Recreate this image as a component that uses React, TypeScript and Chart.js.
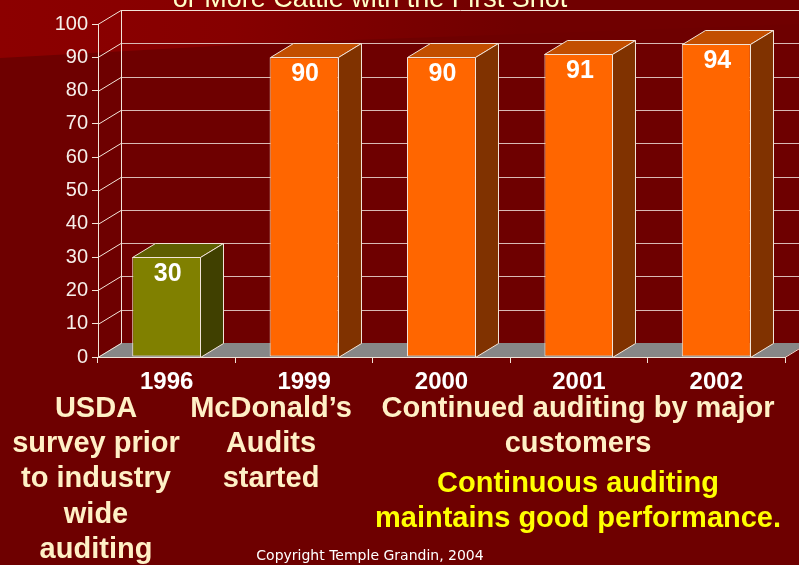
import React, { useEffect, useRef } from 'react';
import { Chart, registerables } from 'chart.js';

Chart.register(...registerables);

// ---- data ----
const categories: string[] = ['1996', '1999', '2000', '2001', '2002'];
const values: number[] = [30, 90, 90, 91, 94];
const yMin = 0;
const yMax = 100;
const yStep = 10;
const titleText = 'or More Cattle with the First Shot';
const note1996: string[] = ['USDA', 'survey prior', 'to industry', 'wide', 'auditing'];
const note1999: string[] = ['McDonald\u2019s', 'Audits', 'started'];
const noteLater: string[] = ['Continued auditing by major', 'customers'];
const noteConclusion: string[] = ['Continuous auditing', 'maintains good performance.'];
const copyrightText = 'Copyright Temple Grandin, 2004';

// ---- style ----
const FONT = '"Liberation Sans", Arial, Helvetica, sans-serif';
const DX = 23;
const DY = 14;
const BG = '#6E0000';
const GRID = '#D9B9B4';
const EDGE = '#F2E4D8';
const CREAM = '#FFF0C6';
const YELLOW = '#FFFF00';

const FACE = { front: '#FF6600', top: '#C24E00', side: '#803200' };
const FACE_OLIVE = { front: '#808000', top: '#5E5E00', side: '#404000' };

const facesFor = (i: number) => (i === 0 ? FACE_OLIVE : FACE);

const slidePlugin = {
  id: 'slide3d',
  beforeDraw(chart: any) {
    const { ctx, chartArea: a, scales } = chart;
    const W = chart.width;
    const H = chart.height;
    const ys = scales.y;
    ctx.save();
    ctx.fillStyle = BG;
    ctx.fillRect(0, 0, W, H);
    const g = ctx.createLinearGradient(0, 0, 520, 0);
    g.addColorStop(0, '#8C0000');
    g.addColorStop(0.45, '#860000');
    g.addColorStop(1, '#700000');
    ctx.fillStyle = g;
    ctx.beginPath();
    ctx.moveTo(0, 0);
    ctx.lineTo(W, 0);
    ctx.lineTo(W, 24);
    ctx.lineTo(270, 43);
    ctx.lineTo(0, 58);
    ctx.closePath();
    ctx.fill();

    // title (cut at top)
    ctx.fillStyle = '#FFFFC8';
    ctx.font = `27px ${FONT}`;
    ctx.textAlign = 'center';
    ctx.textBaseline = 'alphabetic';
    ctx.fillText(titleText, 370, 7);

    const y0 = ys.getPixelForValue(yMin);
    const yTop = ys.getPixelForValue(yMax);

    // floor
    ctx.fillStyle = '#878787';
    ctx.beginPath();
    ctx.moveTo(a.left, y0);
    ctx.lineTo(a.right, y0);
    ctx.lineTo(a.right + DX, y0 - DY);
    ctx.lineTo(a.left + DX, y0 - DY);
    ctx.closePath();
    ctx.fill();

    // walls grid
    ctx.lineWidth = 1;
    ys.ticks.forEach((t: any) => {
      const y = Math.round(ys.getPixelForValue(t.value)) + 0.5;
      ctx.strokeStyle = t.value === yMax ? EDGE : GRID;
      if (t.value > yMin) {
        ctx.beginPath();
        ctx.moveTo(a.left + DX, y - DY);
        ctx.lineTo(W + DX, y - DY);
        ctx.stroke();
      }
      ctx.strokeStyle = EDGE;
      ctx.beginPath();
      ctx.moveTo(a.left, y);
      ctx.lineTo(a.left + DX, y - DY);
      ctx.stroke();
    });
    ctx.strokeStyle = EDGE;
    ctx.beginPath();
    ctx.moveTo(a.left + DX + 0.5, Math.round(yTop) - DY + 0.5);
    ctx.lineTo(a.left + DX + 0.5, Math.round(y0) - DY + 0.5);
    ctx.stroke();
    // floor right edge
    ctx.beginPath();
    ctx.moveTo(a.right, Math.round(y0) + 0.5);
    ctx.lineTo(a.right + DX, Math.round(y0) - DY + 0.5);
    ctx.stroke();
    ctx.restore();
  },
  afterDatasetsDraw(chart: any) {
    const { ctx } = chart;
    const meta = chart.getDatasetMeta(0);
    ctx.save();
    ctx.lineWidth = 1;
    ctx.strokeStyle = EDGE;
    meta.data.forEach((bar: any, i: number) => {
      const p = bar.getProps(['x', 'y', 'base', 'width'], true);
      const l = Math.round(p.x - p.width / 2) + 0.5;
      const r = Math.round(p.x + p.width / 2) - 0.5;
      const t = Math.round(p.y) + 0.5;
      const b = Math.round(p.base) + 0.5;
      const f = facesFor(i);
      // top
      ctx.fillStyle = f.top;
      ctx.beginPath();
      ctx.moveTo(l, t);
      ctx.lineTo(l + DX, t - DY);
      ctx.lineTo(r + DX, t - DY);
      ctx.lineTo(r, t);
      ctx.closePath();
      ctx.fill();
      ctx.stroke();
      // side
      ctx.fillStyle = f.side;
      ctx.beginPath();
      ctx.moveTo(r, t);
      ctx.lineTo(r + DX, t - DY);
      ctx.lineTo(r + DX, b - DY);
      ctx.lineTo(r, b);
      ctx.closePath();
      ctx.fill();
      ctx.stroke();
      // value label
      ctx.fillStyle = '#FFFFFF';
      ctx.font = `bold 25px ${FONT}`;
      ctx.textAlign = 'center';
      ctx.textBaseline = 'middle';
      ctx.fillText(String(values[i]), p.x + 1, p.y + 17);
    });
    ctx.restore();
  },
  afterDraw(chart: any) {
    const { ctx } = chart;
    ctx.save();
    ctx.textAlign = 'center';
    ctx.textBaseline = 'alphabetic';
    ctx.font = `bold 29px ${FONT}`;
    const lh = 35.2;
    ctx.fillStyle = CREAM;
    note1996.forEach((s, i) => ctx.fillText(s, 96, 417 + i * lh));
    note1999.forEach((s, i) => ctx.fillText(s, 271, 417 + i * lh));
    noteLater.forEach((s, i) => ctx.fillText(s, 578, 417 + i * lh));
    ctx.fillStyle = YELLOW;
    noteConclusion.forEach((s, i) => ctx.fillText(s, 578, 492 + i * lh));
    ctx.fillStyle = '#FFFFFF';
    ctx.font = '14px "DejaVu Sans", Verdana, sans-serif';
    ctx.fillText(copyrightText, 370, 560);
    ctx.restore();
  },
};

export default function App() {
  const ref = useRef<HTMLCanvasElement | null>(null);
  useEffect(() => {
    if (!ref.current) return;
    const chart = new Chart(ref.current, {
      type: 'bar',
      data: {
        labels: categories,
        datasets: [
          {
            data: values,
            backgroundColor: values.map((_, i) => facesFor(i).front),
            borderColor: EDGE,
            borderWidth: 1,
            borderSkipped: false,
            barPercentage: 0.502,
            categoryPercentage: 1,
          },
        ],
      },
      options: {
        responsive: false,
        animation: false,
        events: [],
        layout: { padding: { left: 0, right: 14, top: 24, bottom: 0 } },
        plugins: { legend: { display: false }, tooltip: { enabled: false }, title: { display: false } },
        scales: {
          x: {
            type: 'category',
            offset: true,
            grid: { display: true, offset: true, drawOnChartArea: false, drawTicks: true, tickLength: 6, color: EDGE },
            border: { display: true, color: EDGE, width: 1 },
            ticks: { color: '#FFFFFF', font: { family: FONT, size: 24, weight: 'bold' }, padding: 5, maxRotation: 0, autoSkip: false },
            afterFit: (s: any) => { s.height = 208; },
          },
          y: {
            min: yMin,
            max: yMax,
            ticks: { stepSize: yStep, color: '#F6EFEA', font: { family: FONT, size: 20 }, padding: 4 },
            grid: { display: true, drawOnChartArea: false, drawTicks: true, tickLength: 6, color: EDGE },
            border: { display: true, color: EDGE, width: 1 },
            afterFit: (s: any) => { s.width = 98; },
          },
        },
      },
      plugins: [slidePlugin],
    } as any);
    return () => chart.destroy();
  }, []);
  return (
    <div style={{ position: 'fixed', left: 0, top: 0, width: 799, height: 565, overflow: 'hidden' }}>
      <canvas ref={ref} width={799} height={565} style={{ display: 'block', width: 799, height: 565 }} />
    </div>
  );
}
